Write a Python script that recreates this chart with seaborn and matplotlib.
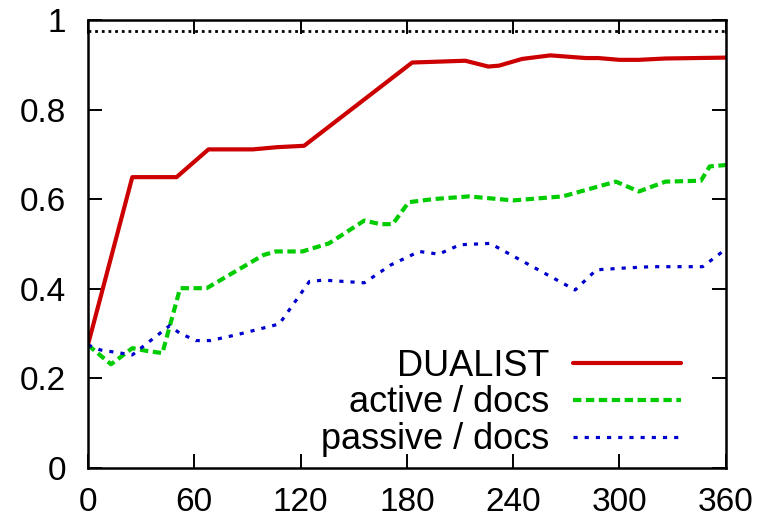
import matplotlib
matplotlib.use("Agg")
import matplotlib.pyplot as plt
import seaborn as sns

# Accuracy vs. annotation time (seconds)
dualist_t = [0, 25, 50, 68, 93, 107, 122, 183, 213, 226, 232, 245, 261, 281, 288, 300, 311, 326, 360]
dualist_acc = [0.275, 0.649, 0.649, 0.711, 0.711, 0.716, 0.719, 0.905, 0.909, 0.896, 0.898, 0.913,
               0.921, 0.915, 0.915, 0.911, 0.911, 0.914, 0.916]

active_t = [0, 13, 25, 33, 42, 52, 67, 99, 106, 121, 136, 156, 165, 172, 181, 195, 215, 240, 268,
            298, 311, 326, 346, 351, 360]
active_acc = [0.274, 0.231, 0.267, 0.261, 0.256, 0.401, 0.401, 0.475, 0.483, 0.483, 0.501, 0.552,
              0.544, 0.544, 0.593, 0.600, 0.606, 0.597, 0.606, 0.639, 0.617, 0.639, 0.641, 0.673, 0.676]

passive_t = [0, 7, 25, 46, 52, 61, 69, 84, 108, 125, 133, 156, 171, 187, 198, 210, 227, 275, 287,
             303, 318, 347, 360]
passive_acc = [0.274, 0.263, 0.252, 0.317, 0.300, 0.284, 0.284, 0.297, 0.321, 0.416, 0.419, 0.413,
               0.453, 0.483, 0.477, 0.498, 0.501, 0.397, 0.442, 0.446, 0.449, 0.449, 0.488]

upper_bound = 0.976

x_ticks = [0, 60, 120, 180, 240, 300, 360]
y_ticks = [0, 0.2, 0.4, 0.6, 0.8, 1.0]
y_tick_labels = ["0", "0.2", "0.4", "0.6", "0.8", "1"]

sns.set_theme(style="ticks")
plt.rcParams["font.family"] = ["Liberation Sans", "DejaVu Sans"]
plt.rcParams["font.size"] = 24
plt.rcParams["text.color"] = "black"

fig = plt.figure(figsize=(7.72, 5.22), dpi=100)
ax = fig.add_axes([0.114, 0.104, 0.826, 0.8577])

ax.axhline(upper_bound, color="black", lw=2.0, dashes=(1, 1.4), zorder=1)

sns.lineplot(x=dualist_t, y=dualist_acc, ax=ax, sort=False, estimator=None,
             color="#cc0000", lw=3, label="DUALIST")
sns.lineplot(x=active_t, y=active_acc, ax=ax, sort=False, estimator=None,
             color="#00cc00", lw=3, label="active / docs")
sns.lineplot(x=passive_t, y=passive_acc, ax=ax, sort=False, estimator=None,
             color="#0000cc", lw=2.3, label="passive / docs")

lines = ax.get_lines()
lines[2].set_dashes((2.0, 1.1))
lines[2].set_dash_capstyle("butt")
lines[3].set_dashes((1.3, 2.2))
lines[3].set_dash_capstyle("butt")

ax.set_xlim(0, 360)
ax.set_ylim(0, 1)
ax.set_xticks(x_ticks)
ax.set_xticklabels([str(t) for t in x_ticks])
ax.set_yticks(y_ticks)
ax.set_yticklabels(y_tick_labels)
ax.set_xlabel("")
ax.set_ylabel("")

for side in ["left", "right", "top", "bottom"]:
    ax.spines[side].set_visible(True)
    ax.spines[side].set_linewidth(1.8)
    ax.spines[side].set_color("black")

ax.tick_params(axis="both", direction="in", length=10, width=1.4, colors="black",
               labelcolor="black", labelsize=24, top=True, right=True)
ax.tick_params(axis="y", pad=16)
ax.tick_params(axis="x", pad=14)

leg = ax.legend(loc="lower right", bbox_to_anchor=(0.964, -0.025), frameon=False,
                markerfirst=False, handlelength=3.0, handletextpad=0.64,
                labelspacing=0.05, fontsize=26, borderaxespad=0.2)
for t in leg.get_texts():
    t.set_ha("right")
    t.set_color("black")

fig.savefig("out.png", dpi=100)
